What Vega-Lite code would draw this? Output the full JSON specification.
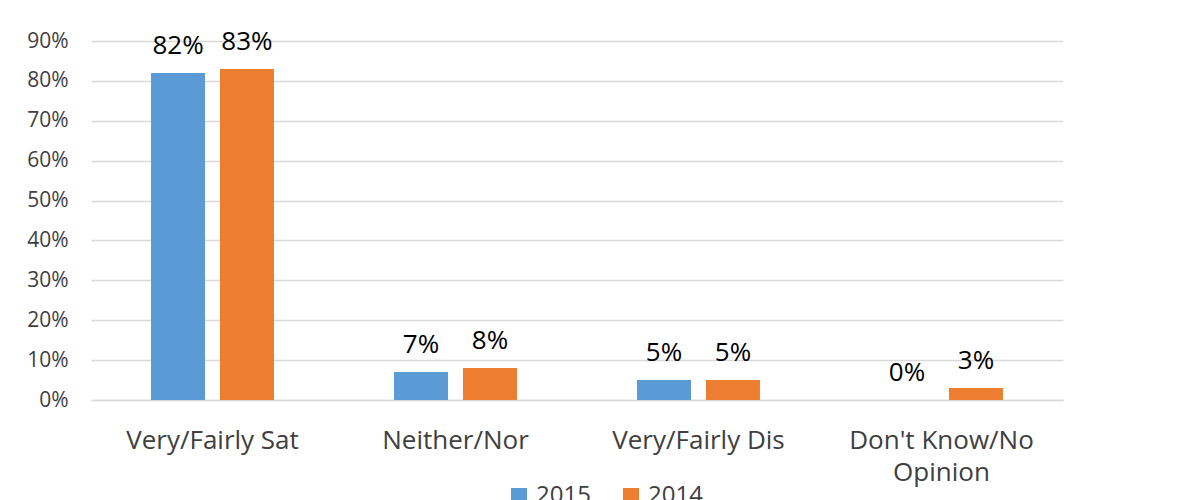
{
  "$schema": "https://vega.github.io/schema/vega-lite/v6.json",
  "autosize": "none",
  "width": 972,
  "height": 359,
  "padding": {"left": 91, "top": 41, "right": 139, "bottom": 100},
  "background": "white",
  "config": {
    "font": "Open Sans",
    "view": {"stroke": null}
  },
  "data": {
    "values": [
      {"category": "Very/Fairly Sat", "year": "2015", "value": 0.82},
      {"category": "Very/Fairly Sat", "year": "2014", "value": 0.83},
      {"category": "Neither/Nor", "year": "2015", "value": 0.07},
      {"category": "Neither/Nor", "year": "2014", "value": 0.08},
      {"category": "Very/Fairly Dis", "year": "2015", "value": 0.05},
      {"category": "Very/Fairly Dis", "year": "2014", "value": 0.05},
      {"category": "Don't Know/No Opinion", "year": "2015", "value": 0.0},
      {"category": "Don't Know/No Opinion", "year": "2014", "value": 0.03}
    ]
  },
  "encoding": {
    "x": {
      "field": "category",
      "type": "nominal",
      "sort": null,
      "scale": {"paddingInner": 0.494, "paddingOuter": 0.247},
      "axis": {
        "title": null,
        "ticks": false,
        "domainColor": "#d9d9d9",
        "domainWidth": 1.5,
        "labelAngle": 0,
        "labelFontSize": 26,
        "labelColor": "#404040",
        "labelPadding": 27,
        "labelLineHeight": 32,
        "labelLimit": 400,
        "labelExpr": "datum.label == \"Don't Know/No Opinion\" ? [\"Don't Know/No\", \"Opinion\"] : datum.label"
      }
    },
    "xOffset": {
      "field": "year",
      "type": "nominal",
      "sort": ["2015", "2014"],
      "scale": {"paddingInner": 0.217, "paddingOuter": 0}
    },
    "y": {
      "field": "value",
      "type": "quantitative",
      "scale": {"domain": [0, 0.9], "nice": false},
      "axis": {
        "title": null,
        "values": [0, 0.1, 0.2, 0.3, 0.4, 0.5, 0.6, 0.7, 0.8, 0.9],
        "format": ".0%",
        "ticks": false,
        "domain": false,
        "gridColor": "#d9d9d9",
        "gridWidth": 1.5,
        "labelFontSize": 21,
        "labelColor": "#404040",
        "labelPadding": 23
      }
    }
  },
  "layer": [
    {
      "mark": {"type": "bar"},
      "encoding": {
        "color": {
          "field": "year",
          "type": "nominal",
          "scale": {"domain": ["2015", "2014"], "range": ["#5B9BD5", "#ED7D31"]},
          "legend": {
            "title": null,
            "orient": "none",
            "direction": "horizontal",
            "legendX": 416,
            "legendY": 443,
            "symbolType": "square",
            "symbolSize": 256,
            "symbolStrokeWidth": 0,
            "labelFontSize": 24,
            "labelColor": "#404040",
            "labelOffset": 5,
            "columnPadding": 28
          }
        }
      }
    },
    {
      "mark": {"type": "text", "fontSize": 26, "color": "#000000", "baseline": "alphabetic", "dy": -19},
      "encoding": {
        "text": {"field": "value", "type": "quantitative", "format": ".0%"}
      }
    }
  ]
}
